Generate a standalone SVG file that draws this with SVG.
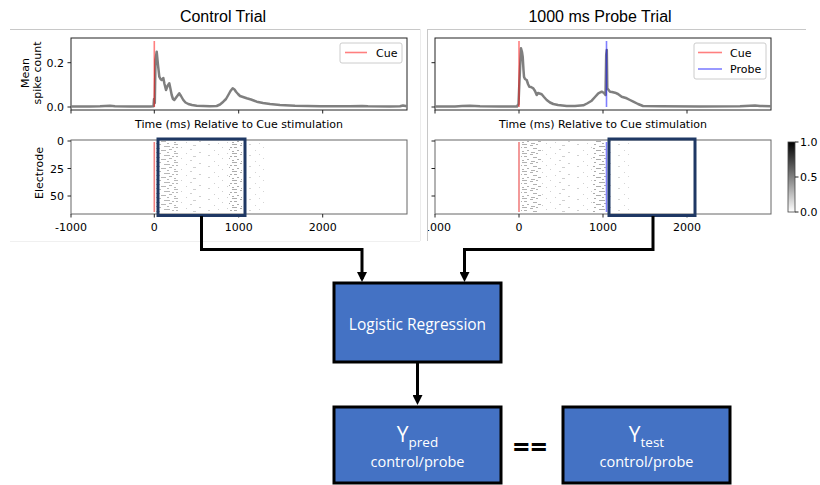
<svg xmlns="http://www.w3.org/2000/svg" width="820" height="485" viewBox="0 0 820 485">
  <style>
    .mpl { font-family: "DejaVu Sans", sans-serif; font-size: 11px; fill: #000; }
    .title { font-family: "Liberation Sans", Arial, sans-serif; font-size: 16px; fill: #000; text-anchor: middle; }
    .frame-top { fill: none; stroke: #222; stroke-width: 1; }
    .frame-ras { fill: none; stroke: #666; stroke-width: 1; }
    .tick { stroke: #222; stroke-width: 1; }
    .cell { stroke: #c8c8c8; stroke-width: 1; fill: none; }
    .trace { fill: none; stroke: #7f7f7f; stroke-width: 2.5; stroke-linejoin: round; }
    .cue { stroke: #ff0000; stroke-opacity: 0.5; stroke-width: 1.6; }
    .probe { stroke: #0000ff; stroke-opacity: 0.5; stroke-width: 1.6; }
    .legend { fill: #fff; fill-opacity: 0.8; stroke: #ccc; stroke-width: 1; }
    .window { fill: none; stroke: #1f3864; stroke-width: 3; }
    .box { fill: #4472c4; stroke: #000; stroke-width: 3; }
    .boxtext { font-family: "Open Sans", "Noto Sans", sans-serif; fill: #fff; text-anchor: middle; }
    .link { fill: none; stroke: #000; stroke-width: 3; }
    .d { fill: #888; }
  </style>
  <defs>
    <marker id="arrow" viewBox="0 0 10 10" refX="7" refY="5" markerWidth="10" markerHeight="10" markerUnits="userSpaceOnUse" orient="auto">
      <path d="M0,0 L10,5 L0,10 z" fill="#000"/>
    </marker>
    <linearGradient id="cbar" x1="0" y1="0" x2="0" y2="1">
      <stop offset="0" stop-color="#000"/>
      <stop offset="1" stop-color="#fff"/>
    </linearGradient>
    <!-- spike textures for the raster plots: short horizontal streaks per electrode row -->
    <pattern id="dense" width="29" height="9" patternUnits="userSpaceOnUse">
      <rect class="d" x="0" y="0" width="5" height="1"/>
      <rect class="d" x="8" y="1" width="3" height="1"/>
      <rect class="d" x="14" y="0" width="2" height="1"/>
      <rect class="d" x="19" y="2" width="6" height="1"/>
      <rect class="d" x="2" y="3" width="3" height="1"/>
      <rect class="d" x="11" y="4" width="4" height="1"/>
      <rect class="d" x="24" y="5" width="3" height="1"/>
      <rect class="d" x="5" y="6" width="2" height="1"/>
      <rect class="d" x="16" y="6" width="5" height="1"/>
      <rect class="d" x="0" y="7" width="2" height="1"/>
      <rect class="d" x="9" y="8" width="4" height="1"/>
      <rect class="d" x="22" y="8" width="2" height="1"/>
      <rect class="d" x="27" y="3" width="2" height="1"/>
    </pattern>
    <pattern id="sparse" width="41" height="11" patternUnits="userSpaceOnUse">
      <rect class="d" x="3" y="1" width="2" height="1"/>
      <rect class="d" x="17" y="4" width="1" height="1"/>
      <rect class="d" x="29" y="2" width="3" height="1"/>
      <rect class="d" x="9" y="7" width="1" height="1"/>
      <rect class="d" x="35" y="9" width="2" height="1"/>
      <rect class="d" x="22" y="10" width="1" height="1"/>
      <rect class="d" x="13" y="0" width="1" height="1"/>
      <rect class="d" x="26" y="6" width="2" height="1"/>
    </pattern>
    <pattern id="row" width="9" height="2" patternUnits="userSpaceOnUse">
      <rect x="1" y="0" width="1" height="1" fill="#bbb"/>
    </pattern>
    <clipPath id="rightcell">
      <rect x="428" y="0" width="392" height="485"/>
    </clipPath>
  </defs>

  <!-- notebook cell borders -->
  <g id="cells">
    <line class="cell" x1="10" y1="29.5" x2="420" y2="29.5"/>
    <line x1="420.5" y1="29" x2="420.5" y2="241" stroke="#ececec"/>
    <line x1="10" y1="241.5" x2="420" y2="241.5" stroke="#f0f0f0"/>
    <line class="cell" x1="427" y1="29.5" x2="806" y2="29.5"/>
    <line class="cell" x1="427.5" y1="29" x2="427.5" y2="241"/>
  </g>

  <!-- left panel: control trial -->
  <g id="control-panel">
    <text class="title" x="223" y="22">Control Trial</text>
    <!-- mean spike count -->
    <rect class="frame-top" x="71" y="38" width="336" height="72"/>
    <g class="tick">
      <line x1="67.5" y1="62.7" x2="71" y2="62.7"/>
      <line x1="67.5" y1="107" x2="71" y2="107"/>
      <line x1="71" y1="110" x2="71" y2="113.5"/>
      <line x1="154.3" y1="110" x2="154.3" y2="113.5"/>
      <line x1="238.7" y1="110" x2="238.7" y2="113.5"/>
      <line x1="322.7" y1="110" x2="322.7" y2="113.5"/>
    </g>
    <text class="mpl" x="64" y="66.7" text-anchor="end">0.2</text>
    <text class="mpl" x="64" y="111" text-anchor="end">0.0</text>
    <text class="mpl" transform="translate(29 73) rotate(-90)" text-anchor="middle">Mean</text>
    <text class="mpl" transform="translate(40.5 73) rotate(-90)" text-anchor="middle">spike count</text>
    <polyline class="trace" points="71,106.5 90,106.4 100,106.2 110,105.7 115,106.2 130,106.4 150,106.5 153.5,106.3 154,99 154.8,103 155.5,60 156.7,51.7 158,65 159.3,76.7 160.5,79 161.7,80 163.3,78 164.5,84 166,90 167.5,86 169.3,83.3 170.5,89 171.7,95 173,99 174.3,100 176.5,97 179.3,93.3 181,96 183.3,100 185.5,102.5 188.3,104 192,105 196.7,105.7 210,106.2 216.7,106 220,104.5 223.3,101.7 226,99 228.3,95 230.5,91 232.7,88.3 234.5,89.5 236,91.7 238,94 240,96 243,97 246.7,98.3 251,99.5 256.7,101.7 263,103 270,104 280,105 295,105.8 320,106.2 350,106.3 362,105.9 368,106.3 390,106.4 400,106.3 403,105.5 407,106.3"/>
    <line class="cue" x1="154.3" y1="41" x2="154.3" y2="107"/>
    <rect class="legend" x="340" y="43" width="62" height="20" rx="2"/>
    <line class="cue" x1="345" y1="52.5" x2="367" y2="52.5"/>
    <text class="mpl" x="376" y="56.5">Cue</text>
    <text class="mpl" x="239" y="127.5" text-anchor="middle">Time (ms) Relative to Cue stimulation</text>

    <!-- raster -->
    <rect x="156" y="141" width="22" height="71" fill="url(#dense)" opacity="0.6"/>
    <rect x="178" y="141" width="50" height="71" fill="url(#sparse)" opacity="0.4"/>
    <rect x="229" y="141" width="13" height="71" fill="url(#dense)" opacity="0.7"/>
    <rect x="242" y="141" width="24" height="71" fill="url(#sparse)" opacity="0.35"/>
    <rect x="95" y="173" width="305" height="1" fill="url(#row)"/>
    <line x1="154.3" y1="142" x2="154.3" y2="212" stroke="#f08080" stroke-width="1.6"/>
    <rect class="frame-ras" x="71" y="140" width="336" height="74"/>
    <g class="tick">
      <line x1="67.5" y1="141" x2="71" y2="141"/>
      <line x1="67.5" y1="168.5" x2="71" y2="168.5"/>
      <line x1="67.5" y1="196" x2="71" y2="196"/>
      <line x1="71" y1="214" x2="71" y2="217.5"/>
      <line x1="154.3" y1="214" x2="154.3" y2="217.5"/>
      <line x1="238.7" y1="214" x2="238.7" y2="217.5"/>
      <line x1="322.7" y1="214" x2="322.7" y2="217.5"/>
    </g>
    <text class="mpl" x="64" y="145" text-anchor="end">0</text>
    <text class="mpl" x="64" y="172.5" text-anchor="end">25</text>
    <text class="mpl" x="64" y="200" text-anchor="end">50</text>
    <text class="mpl" transform="translate(42.5 173) rotate(-90)" text-anchor="middle">Electrode</text>
    <text class="mpl" x="71" y="230.5" text-anchor="middle">-1000</text>
    <text class="mpl" x="154.3" y="230.5" text-anchor="middle">0</text>
    <text class="mpl" x="238.7" y="230.5" text-anchor="middle">1000</text>
    <text class="mpl" x="322.7" y="230.5" text-anchor="middle">2000</text>
  </g>

  <!-- right panel: probe trial -->
  <g id="probe-panel" clip-path="url(#rightcell)">
    <text class="title" x="600" y="22">1000 ms Probe Trial</text>
    <rect class="frame-top" x="435" y="38" width="336" height="72"/>
    <g class="tick">
      <line x1="431.5" y1="62.7" x2="435" y2="62.7"/>
      <line x1="431.5" y1="107" x2="435" y2="107"/>
      <line x1="435" y1="110" x2="435" y2="113.5"/>
      <line x1="519" y1="110" x2="519" y2="113.5"/>
      <line x1="603" y1="110" x2="603" y2="113.5"/>
      <line x1="687" y1="110" x2="687" y2="113.5"/>
    </g>
    <polyline class="trace" points="435,106.5 455,106.4 462,106.1 470,105.7 480,106.2 500,106.4 517,106.5 518.5,104 519.5,80 521,48.3 522,52 522.7,56.7 523.5,70 524,76.7 525,79 526.7,80 528,84 529.3,86.7 531,87 533.3,88.3 535,91 536.7,95 538,93 541.7,94.3 544,97 546.7,100 550,102.5 553.3,104 558,105 566.7,106 575,106 583.3,105.3 587,103.5 591.7,100.7 595,97 598.3,93.3 601.7,91.7 604,93 605.5,95 606.2,55 606.8,50 607.3,88.3 610,91.7 612,92 615,92.7 618,94 621.7,96.7 626.7,98.3 630,100 633.3,101.7 638,104 643,106 660,106.3 700,106.4 740,106.3 755,105.5 760,106 771,106.3"/>
    <line class="cue" x1="519" y1="41" x2="519" y2="107"/>
    <line class="probe" x1="606.5" y1="41" x2="606.5" y2="107"/>
    <rect class="legend" x="694" y="43" width="72" height="36" rx="2"/>
    <line class="cue" x1="698" y1="52.5" x2="722" y2="52.5"/>
    <line class="probe" x1="698" y1="69" x2="722" y2="69"/>
    <text class="mpl" x="730" y="56.5">Cue</text>
    <text class="mpl" x="730" y="73">Probe</text>
    <text class="mpl" x="603" y="127.5" text-anchor="middle">Time (ms) Relative to Cue stimulation</text>

    <!-- raster -->
    <rect x="521" y="141" width="20" height="71" fill="url(#dense)" opacity="0.65"/>
    <rect x="541" y="141" width="52" height="71" fill="url(#sparse)" opacity="0.4"/>
    <rect x="593" y="141" width="13" height="71" fill="url(#dense)" opacity="0.7"/>
    <rect x="607" y="141" width="24" height="71" fill="url(#sparse)" opacity="0.35"/>
    <rect x="460" y="173" width="305" height="1" fill="url(#row)"/>
    <line x1="519" y1="142" x2="519" y2="212" stroke="#f08080" stroke-width="1.6"/>
    <line x1="606.5" y1="142" x2="606.5" y2="212" stroke="#8080ff" stroke-width="1.6"/>
    <rect class="frame-ras" x="435" y="140" width="336" height="74"/>
    <g class="tick">
      <line x1="431.5" y1="141" x2="435" y2="141"/>
      <line x1="431.5" y1="168.5" x2="435" y2="168.5"/>
      <line x1="431.5" y1="196" x2="435" y2="196"/>
      <line x1="435" y1="214" x2="435" y2="217.5"/>
      <line x1="519" y1="214" x2="519" y2="217.5"/>
      <line x1="603" y1="214" x2="603" y2="217.5"/>
      <line x1="687" y1="214" x2="687" y2="217.5"/>
    </g>
    <text class="mpl" x="435" y="230.5" text-anchor="middle">-1000</text>
    <text class="mpl" x="519" y="230.5" text-anchor="middle">0</text>
    <text class="mpl" x="603" y="230.5" text-anchor="middle">1000</text>
    <text class="mpl" x="687" y="230.5" text-anchor="middle">2000</text>

    <!-- colour bar -->
    <rect x="788" y="142" width="7" height="70" fill="url(#cbar)" stroke="#444" stroke-width="0.8"/>
    <g class="tick">
      <line x1="795" y1="142" x2="798.5" y2="142"/>
      <line x1="795" y1="177" x2="798.5" y2="177"/>
      <line x1="795" y1="212" x2="798.5" y2="212"/>
    </g>
    <text class="mpl" x="800" y="146">1.0</text>
    <text class="mpl" x="800" y="181">0.5</text>
    <text class="mpl" x="800" y="216">0.0</text>
  </g>

  <!-- selected time windows -->
  <g id="window-control">
    <rect class="window" x="158" y="139" width="87" height="76.5"/>
  </g>
  <g id="window-probe">
    <rect class="window" x="609" y="139" width="86" height="76.5"/>
  </g>

  <!-- connectors -->
  <g id="connectors">
    <path class="link" d="M201.5 216 V249.5 H362 V279" marker-end="url(#arrow)"/>
    <path class="link" d="M653 216 V249.5 H464.5 V279" marker-end="url(#arrow)"/>
    <path class="link" d="M417.5 362 V402" marker-end="url(#arrow)"/>
  </g>

  <g id="logistic-regression">
    <rect class="box" x="334" y="283" width="167" height="79"/>
    <text class="boxtext" x="417.5" y="329.5" font-size="15.5">Logistic Regression</text>
  </g>

  <g id="y-pred">
    <rect class="box" x="334" y="407" width="167" height="76"/>
    <text class="boxtext" x="417.5" y="441.5" font-size="21">Y<tspan font-size="13.5" dy="5.5">pred</tspan></text>
    <text class="boxtext" x="417.5" y="467" font-size="14.5">control/probe</text>
  </g>

  <g id="equals">
    <text x="530.5" y="457" font-family="'Open Sans', 'Noto Sans', sans-serif" font-weight="bold" font-size="29" text-anchor="middle" letter-spacing="1">==</text>
  </g>

  <g id="y-test">
    <rect class="box" x="563" y="407" width="167" height="76"/>
    <text class="boxtext" x="646.5" y="441.5" font-size="21">Y<tspan font-size="13.5" dy="5.5">test</tspan></text>
    <text class="boxtext" x="646.5" y="467" font-size="14.5">control/probe</text>
  </g>
</svg>
